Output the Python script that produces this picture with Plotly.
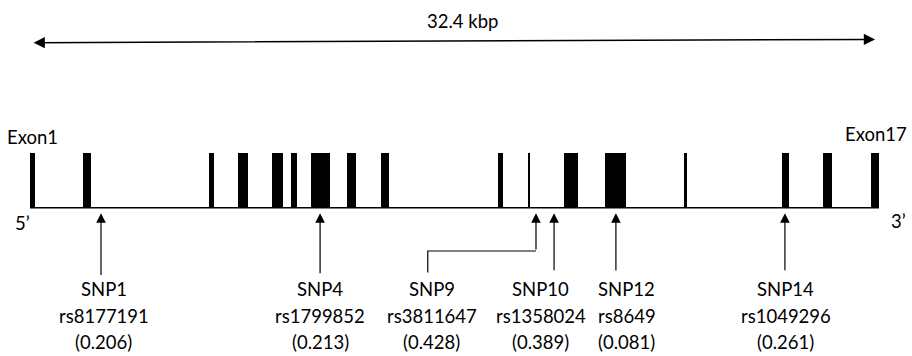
import plotly.graph_objects as go

# ---------------- data ----------------
gene_length_kbp = 32.4
exon_start = [0.00, 2.02, 6.83, 7.94, 9.24, 9.96, 10.72, 12.10, 13.40,
              17.86, 19.00, 20.38, 21.94, 24.96, 28.70, 30.26, 32.09]
exon_end = [0.19, 2.33, 7.02, 8.32, 9.66, 10.19, 11.45, 12.44, 13.70,
            18.05, 19.08, 20.91, 22.74, 25.07, 28.96, 30.61, 32.40]
snp_names = ["SNP1", "SNP4", "SNP9", "SNP10", "SNP12", "SNP14"]
snp_rs = ["rs8177191", "rs1799852", "rs3811647", "rs1358024", "rs8649", "rs1049296"]
snp_freq = ["(0.206)", "(0.213)", "(0.428)", "(0.389)", "(0.081)", "(0.261)"]
snp_pos = [2.71, 11.07, 19.31, 20.00, 22.36, 28.81]

# ---------------- layout helpers ----------------
label_x = [2.82, 11.07, 15.34, 19.50, 22.78, 28.85]
line_bottom = [-1.25, -1.22, -1.18, -1.165, -1.17, -1.165]
elbow_x = 15.18
elbow_y = -0.787
tip_y = -0.10
row_y = [-1.47, -1.97, -2.45]
FONT = "Lato, 'Open Sans', sans-serif"
FS = 18.5

fig = go.Figure()

# backbone line
fig.add_trace(go.Scatter(x=[0, gene_length_kbp], y=[0, 0], mode="lines",
                         line=dict(color="black", width=1.5), hoverinfo="skip"))

# exons as bars
widths = [e - s for s, e in zip(exon_start, exon_end)]
centers = [(s + e) / 2 for s, e in zip(exon_start, exon_end)]
fig.add_trace(go.Bar(x=centers, y=[1] * len(centers), width=widths, base=0,
                     marker=dict(color="black", line=dict(width=0)), hoverinfo="skip"))

annotations = []
# SNP arrows and labels
for i, name in enumerate(snp_names):
    start_y = line_bottom[i]
    if name == "SNP9":
        # elbow connector
        fig.add_trace(go.Scatter(x=[elbow_x, elbow_x, snp_pos[i]],
                                 y=[line_bottom[i], elbow_y, elbow_y], mode="lines",
                                 line=dict(color="black", width=1.2), hoverinfo="skip"))
        start_y = elbow_y
    annotations.append(dict(x=snp_pos[i], y=tip_y, ax=snp_pos[i], ay=start_y,
                            xref="x", yref="y", axref="x", ayref="y", text="",
                            showarrow=True, arrowhead=2, arrowsize=1.6, arrowwidth=1.2,
                            arrowcolor="black", standoff=0))
    for r, txt in enumerate([name, snp_rs[i], snp_freq[i]]):
        annotations.append(dict(x=label_x[i], y=row_y[r], xref="x", yref="y", text=txt,
                                showarrow=False, xanchor="center", yanchor="middle",
                                font=dict(family=FONT, size=FS, color="black")))

# scale arrow
annotations.append(dict(x=32.25, y=3.06, ax=0.08, ay=3.0, xref="x", yref="y",
                        axref="x", ayref="y", text="", showarrow=True,
                        arrowhead=2, startarrowhead=2, arrowside="end+start",
                        arrowsize=1.5, startarrowsize=1.5, arrowwidth=1.5,
                        arrowcolor="black", standoff=0, startstandoff=0))
annotations.append(dict(x=16.52, y=3.395, xref="x", yref="y", text="32.4 kbp",
                        showarrow=False, font=dict(family=FONT, size=FS, color="black")))
annotations.append(dict(x=0.11, y=1.285, xref="x", yref="y", text="Exon1",
                        showarrow=False, font=dict(family=FONT, size=FS, color="black")))
annotations.append(dict(x=32.30, y=1.349, xref="x", yref="y", text="Exon17",
                        showarrow=False, font=dict(family=FONT, size=FS, color="black")))
annotations.append(dict(x=-0.305, y=-0.278, xref="x", yref="y", text="5’",
                        showarrow=False, font=dict(family=FONT, size=FS, color="black")))
annotations.append(dict(x=33.13, y=-0.242, xref="x", yref="y", text="3’",
                        showarrow=False, font=dict(family=FONT, size=FS, color="black")))

k = gene_length_kbp / 849.0
fig.update_layout(
    width=912, height=356, margin=dict(l=0, r=0, t=0, b=0),
    paper_bgcolor="white", plot_bgcolor="white", showlegend=False,
    annotations=annotations, bargap=0,
    xaxis=dict(range=[-30 * k, 882 * k], visible=False, fixedrange=True),
    yaxis=dict(range=[-(356 - 207.7) / 55, 207.7 / 55], visible=False, fixedrange=True),
)
fig.write_html("out.html", post_script="document.body.style.margin='0';",
               config={"displayModeBar": False})
